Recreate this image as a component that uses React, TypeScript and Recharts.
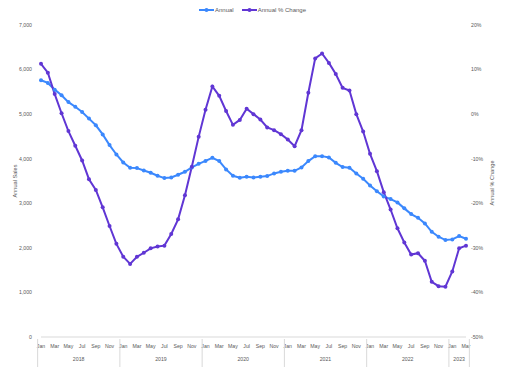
import { LineChart, Line, XAxis, YAxis, Legend } from 'recharts';

const years = ['2018', '2019', '2020', '2021', '2022', '2023'];
const monthNames = ['Jan', 'Feb', 'Mar', 'Apr', 'May', 'Jun', 'Jul', 'Aug', 'Sep', 'Oct', 'Nov', 'Dec'];

// Jan 2018 .. Mar 2023, one value per month
const annualSales = [
  5760, 5700, 5550, 5425, 5270, 5165, 5050, 4900, 4750, 4545, 4305, 4095,
  3915, 3796, 3789, 3737, 3684, 3617, 3565, 3580, 3640, 3707, 3805, 3886,
  3950, 4020, 3946, 3760, 3617, 3572, 3594, 3580, 3594, 3610, 3670, 3707,
  3729, 3729, 3805, 3946, 4058, 4058, 4029, 3908, 3812, 3796, 3670, 3550,
  3401, 3270, 3155, 3094, 3020, 2886, 2758, 2675, 2549, 2361, 2249, 2175,
  2190, 2265, 2204,
];

const annualChange = [
  11.3, 9.3, 4.5, 0.2, -3.8, -7.1, -10.4, -14.6, -17.0, -20.9, -25.1, -29.1,
  -32.0, -33.6, -32.0, -31.1, -30.1, -29.7, -29.5, -26.9, -23.6, -18.2, -11.8, -5.1,
  1.0, 6.2, 4.1, 0.7, -2.4, -1.3, 1.2, 0.0, -1.2, -3.0, -3.6, -4.5,
  -5.7, -7.2, -3.6, 4.8, 12.5, 13.6, 11.5, 9.0, 5.9, 5.3, 0.0, -3.9,
  -8.9, -12.8, -17.5, -21.4, -25.6, -28.8, -31.5, -31.2, -32.9, -37.6, -38.6, -38.7,
  -35.3, -30.1, -29.5,
];

const salesTicks = [0, 1000, 2000, 3000, 4000, 5000, 6000, 7000];
const changeTicks = [-50, -40, -30, -20, -10, 0, 10, 20];

const data = annualSales.map((v, i) => ({
  key: `${years[Math.floor(i / 12)]}-${i % 12}`,
  month: monthNames[i % 12],
  year: years[Math.floor(i / 12)],
  annual: v,
  change: annualChange[i],
}));

const BLUE = '#3b88fd';
const PURPLE = '#6036d4';
const TEXT = '#595959';
const FONT = '"Liberation Sans", Arial, sans-serif';
const PLOT_LEFT = 41;
const PLOT_RIGHT = 466;
const STEP = (PLOT_RIGHT - PLOT_LEFT) / data.length;

const MonthYearTick = (props: any) => {
  const { x, y, payload } = props;
  const i = payload.index;
  const d = data[i];
  const m = i % 12;
  const n = data.length;
  const parts: any[] = [];
  if (m % 2 === 0) {
    parts.push(
      <text key="m" x={x} y={y + 9} textAnchor="middle" fontSize={5.2} fill={TEXT} fontFamily={FONT}>
        {d.month}
      </text>
    );
  }
  if (m === 0) {
    parts.push(<line key="s" x1={x - STEP / 2} x2={x - STEP / 2} y1={y} y2={y + 28} stroke="#d9d9d9" strokeWidth={1} />);
  }
  if (i === n - 1) {
    parts.push(<line key="e" x1={x + STEP / 2} x2={x + STEP / 2} y1={y} y2={y + 28} stroke="#d9d9d9" strokeWidth={1} />);
  }
  const lastYearStart = Math.floor((n - 1) / 12) * 12;
  const groupLen = i >= lastYearStart ? n - lastYearStart : 12;
  const mid = (groupLen - 1) / 2;
  if (m === Math.floor(mid)) {
    const cx = x + (mid - Math.floor(mid)) * STEP;
    parts.push(
      <text key="y" x={cx} y={y + 22} textAnchor="middle" fontSize={5.2} fill={TEXT} fontFamily={FONT}>
        {d.year}
      </text>
    );
  }
  return <g>{parts}</g>;
};

const LegendContent = () => {
  const items = [
    { label: 'Annual', color: BLUE },
    { label: 'Annual % Change', color: PURPLE },
  ];
  return (
    <div style={{ display: 'flex', justifyContent: 'center', alignItems: 'center', height: 12 }}>
      {items.map((it) => (
        <div key={it.label} style={{ display: 'flex', alignItems: 'center', margin: '0 4px' }}>
          <svg width={15} height={6}>
            <line x1={0} x2={15} y1={3} y2={3} stroke={it.color} strokeWidth={2} />
            <circle cx={7.5} cy={3} r={2} fill={it.color} />
          </svg>
          <span style={{ fontSize: 6, color: TEXT, fontFamily: FONT, marginLeft: 1 }}>{it.label}</span>
        </div>
      ))}
    </div>
  );
};

const AxisTitle = ({ x, y, text }: { x: number; y: number; text: string }) => (
  <text x={x} y={y} transform={`rotate(-90, ${x}, ${y})`} textAnchor="middle" dominantBaseline="central" fontSize={5.6} fill={TEXT} fontFamily={FONT}>
    {text}
  </text>
);

export default function App() {
  return (
    <div style={{ width: 505, height: 367, background: '#fff' }}>
      <style>{'body{margin:0}'}</style>
      <LineChart width={505} height={367} data={data} margin={{ top: 13, right: 0, bottom: 0, left: 0 }}>
        <Legend verticalAlign="top" content={<LegendContent />} wrapperStyle={{ top: 4, height: 12 }} />
        <XAxis
          dataKey="key"
          interval={0}
          height={30}
          tickLine={false}
          tickSize={0}
          axisLine={{ stroke: '#d9d9d9' }}
          tick={<MonthYearTick />}
        />
        <YAxis
          yAxisId="left"
          width={41}
          domain={[0, 7000]}
          ticks={salesTicks}
          axisLine={false}
          tickLine={false}
          tickSize={0}
          tickMargin={9}
          tick={{ fontSize: 5.2, fill: TEXT, fontFamily: FONT }}
          tickFormatter={(v: number) => v.toLocaleString('en-US')}
          label={{ content: () => <AxisTitle x={15} y={181} text="Annual Sales" /> }}
        />
        <YAxis
          yAxisId="right"
          orientation="right"
          width={39}
          domain={[-50, 20]}
          ticks={changeTicks}
          axisLine={false}
          tickLine={false}
          tickSize={0}
          tickMargin={5}
          tick={{ fontSize: 5.2, fill: TEXT, fontFamily: FONT }}
          tickFormatter={(v: number) => `${v}%`}
          label={{ content: () => <AxisTitle x={492} y={183} text="Annual % Change" /> }}
        />
        <Line
          yAxisId="left"
          dataKey="annual"
          name="Annual"
          stroke={BLUE}
          strokeWidth={2}
          dot={{ r: 2, fill: BLUE, stroke: BLUE, strokeWidth: 0 }}
          isAnimationActive={false}
        />
        <Line
          yAxisId="right"
          dataKey="change"
          name="Annual % Change"
          stroke={PURPLE}
          strokeWidth={2}
          dot={{ r: 2, fill: PURPLE, stroke: PURPLE, strokeWidth: 0 }}
          isAnimationActive={false}
        />
      </LineChart>
    </div>
  );
}
